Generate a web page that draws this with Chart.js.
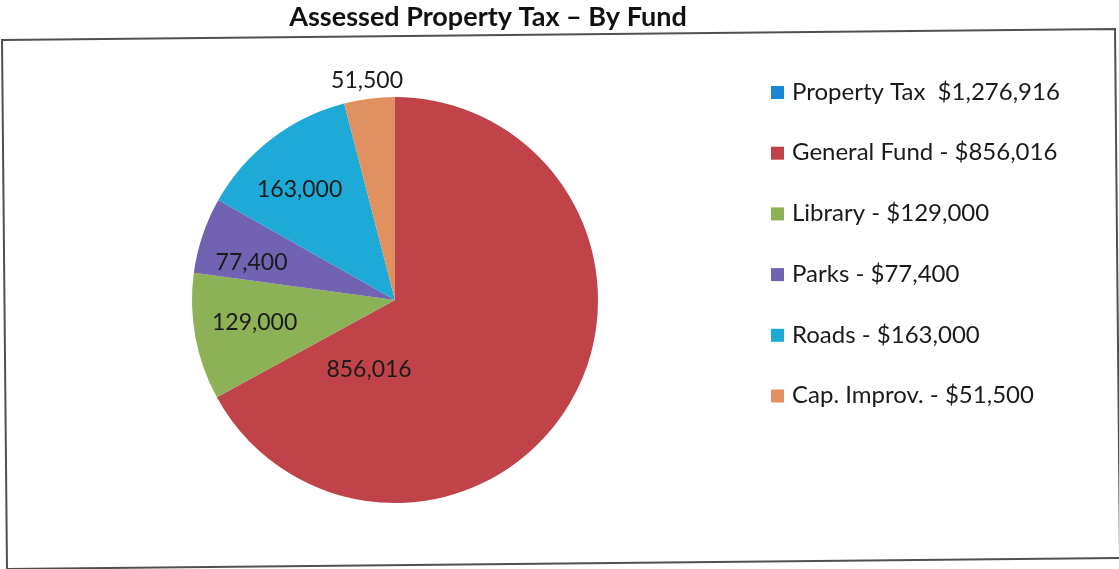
<!DOCTYPE html>
<html>
<head>
<meta charset="utf-8">
<script src="https://cdn.jsdelivr.net/npm/chart.js@4/dist/chart.umd.min.js"></script>
<style>
  html, body { margin: 0; padding: 0; background: #fff; }
  #wrap { width: 1119px; height: 569px; position: relative; }
</style>
</head>
<body>
<div id="wrap"><canvas id="myChart" width="1119" height="569"></canvas></div>
<script>
// data
const labels = ['Property Tax', 'General Fund', 'Library', 'Parks', 'Roads', 'Cap. Improv.'];
const values = [0, 856016, 129000, 77400, 163000, 51500];
const legendText = ['Property Tax  $1,276,916', 'General Fund - $856,016', 'Library - $129,000',
  'Parks - $77,400', 'Roads - $163,000', 'Cap. Improv. - $51,500'];
const colors = ['#1b88d6', '#c0434a', '#8cb157', '#7262b2', '#1eaad6', '#e0915f'];

// where each value label sits: fraction along the slice angle, fraction of radius
const labelAlong = [0.5, 0.83, 0.54, 0.31, 0.43, 0.5];
const labelRadius = [0.5, 0.368, 0.70, 0.73, 0.72, 1.09];

const FONT = 'Lato, "Open Sans", sans-serif';

const fmt = function (v) {
  return v.toString().replace(/\B(?=(\d{3})+(?!\d))/g, ',');
};

const decor = {
  id: 'decor',
  beforeDraw: function (chart) {
    const ctx = chart.ctx;
    ctx.save();
    ctx.fillStyle = '#fff';
    ctx.fillRect(0, 0, chart.width, chart.height);
    // frame (scan is slightly tilted)
    ctx.strokeStyle = '#505050';
    ctx.lineWidth = 2;
    ctx.beginPath();
    ctx.moveTo(2, 40);
    ctx.lineTo(1115, 29);
    ctx.lineTo(1120, 558);
    ctx.lineTo(7, 569);
    ctx.closePath();
    ctx.stroke();
    // title
    ctx.fillStyle = '#111';
    ctx.font = 'bold 27px ' + FONT;
    ctx.textAlign = 'center';
    ctx.textBaseline = 'middle';
    ctx.fillText('Assessed Property Tax \u2013 By Fund', 488, 17);
    ctx.restore();
  },
  afterDraw: function (chart) {
    const ctx = chart.ctx;
    const meta = chart.getDatasetMeta(0);
    ctx.save();
    // value labels
    ctx.fillStyle = '#1a1a1a';
    ctx.font = '23px ' + FONT;
    ctx.textAlign = 'center';
    ctx.textBaseline = 'middle';
    meta.data.forEach(function (arc, i) {
      if (!values[i]) return;
      const p = arc.getProps(['x', 'y', 'startAngle', 'endAngle', 'outerRadius'], true);
      const a = p.startAngle + (p.endAngle - p.startAngle) * labelAlong[i];
      const r = p.outerRadius * labelRadius[i];
      ctx.fillText(fmt(values[i]), p.x + Math.cos(a) * r, p.y + Math.sin(a) * r);
    });
    // legend
    ctx.font = '24px ' + FONT;
    ctx.textAlign = 'left';
    for (let i = 0; i < labels.length; i++) {
      const y = 92 + i * 60.7;
      ctx.fillStyle = colors[i];
      ctx.fillRect(771, y - 6, 13, 13);
      ctx.fillStyle = '#1a1a1a';
      ctx.fillText(legendText[i], 792, y);
    }
    ctx.restore();
  }
};

const data = {
  labels: labels,
  datasets: [
    {
      data: values,
      backgroundColor: colors,
      borderWidth: 0,
    },
  ],
};

const config = {
  type: 'pie',
  data: data,
  options: {
    responsive: false,
    animation: false,
    layout: { padding: { left: 192, right: 521, top: 97, bottom: 66 } },
    plugins: {
      legend: { display: false },
      tooltip: { enabled: false },
    },
  },
  plugins: [decor],
};
const myChart = new Chart(document.getElementById('myChart'), config);
</script>
</body>
</html>
